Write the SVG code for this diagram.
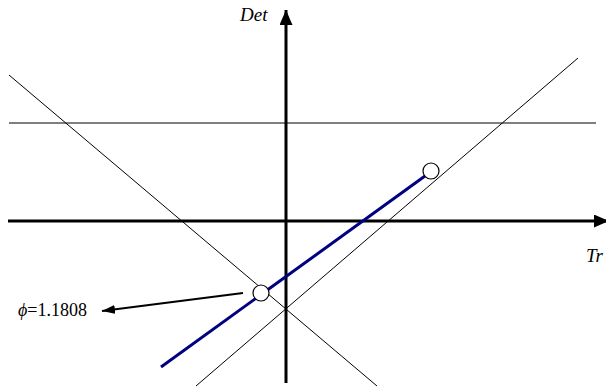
<svg xmlns="http://www.w3.org/2000/svg" width="606" height="388" viewBox="0 0 606 388">
<style>
.thin{stroke:#000;stroke-width:1;fill:none}
.axis{stroke:#000;stroke-width:3;fill:none}
.lbl{font-family:"Liberation Serif","Times New Roman",serif;font-style:italic;font-size:19px;fill:#000}
.val{font-family:"Liberation Serif","Times New Roman",serif;font-size:18px;fill:#000}
.pt{fill:#fff;stroke:#000;stroke-width:1.2}
</style>
<defs>
<marker id="ah" markerUnits="userSpaceOnUse" markerWidth="16" markerHeight="14" refX="15" refY="6.5" orient="auto">
<path d="M0,0 L15,6.5 L0,13 Z" fill="#000"/>
</marker>
<marker id="ah2" markerUnits="userSpaceOnUse" markerWidth="14" markerHeight="10" refX="13" refY="4.5" orient="auto">
<path d="M0,0 L13,4.5 L0,9 Z" fill="#000"/>
</marker>
</defs>
<g id="connectors">
<line class="thin" x1="9" y1="123" x2="596" y2="123" style="stroke:#555;stroke-width:1.5"/>
<line class="thin" x1="9" y1="75" x2="377" y2="386"/>
<line class="thin" x1="196" y1="386" x2="578" y2="58"/>
<line class="axis" x1="8" y1="221" x2="609" y2="221" marker-end="url(#ah)"/>
<line class="axis" x1="286" y1="383" x2="286" y2="10" marker-end="url(#ah)"/>
<line x1="161" y1="367" x2="425" y2="176" style="stroke:#000080;stroke-width:3"/>
<line x1="243" y1="293" x2="102" y2="311" style="stroke:#000;stroke-width:2.2" marker-end="url(#ah2)"/>
</g>
<g id="p1"><circle class="pt" cx="261" cy="293" r="8"/></g>
<g id="p2"><circle class="pt" cx="431" cy="171" r="8"/></g>
<g id="det"><text class="lbl" x="240" y="21">Det</text></g>
<g id="tr"><text class="lbl" x="586" y="262">Tr</text></g>
<g id="phi"><text class="val" x="18" y="316"><tspan font-style="italic">ϕ</tspan>=1.1808</text></g>
</svg>
